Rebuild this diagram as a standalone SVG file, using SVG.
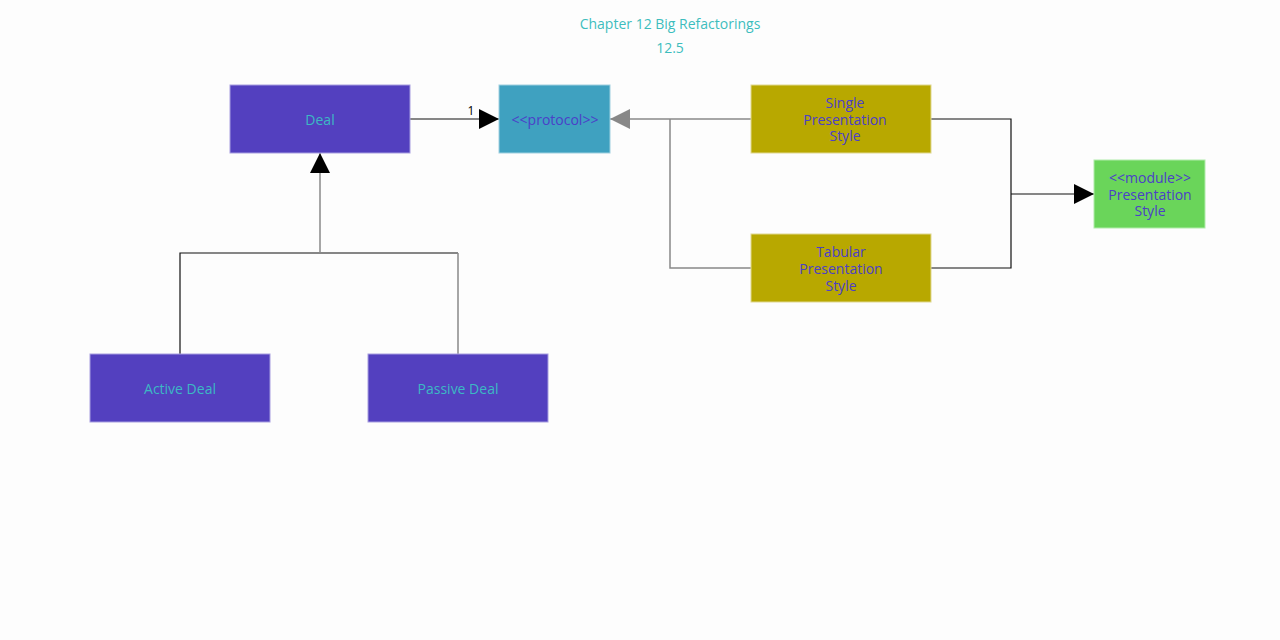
<svg xmlns="http://www.w3.org/2000/svg" width="1280" height="640" viewBox="0 0 1280 640">
<style>
text{font-family:"Open Sans","Noto Sans","Liberation Sans",sans-serif;font-size:14px;text-anchor:middle;dominant-baseline:central}
.title{fill:#3dbdbd}
.deal rect{fill:#5340bf;stroke:#a79ee0;stroke-width:1}
.deal text{fill:#3cb8c4}
.proto rect{fill:#3fa1c0;stroke:#9fd0e0;stroke-width:1}
.pres rect{fill:#b8a800;stroke:#e0d890;stroke-width:1}
.mod rect{fill:#6ad55a;stroke:#b0ecaa;stroke-width:1}
.blue{fill:#4b40c8}
.ln{fill:none;stroke:#111;stroke-width:1.2}
.lg{fill:none;stroke:#888;stroke-width:1.5}
</style>
<defs>
<marker id="ab" markerWidth="20" markerHeight="20" refX="20" refY="10" orient="auto" markerUnits="userSpaceOnUse"><path d="M0,0 L20,10 L0,20 Z" fill="#000"/></marker>
<marker id="ag" markerWidth="20" markerHeight="20" refX="20" refY="10" orient="auto" markerUnits="userSpaceOnUse"><path d="M0,0 L20,10 L0,20 Z" fill="#888"/></marker>
</defs>
<rect width="1280" height="640" fill="#fdfdfd"/>
<text class="title" x="670" y="23">Chapter 12 Big Refactorings</text>
<text class="title" x="670" y="47">12.5</text>
<g id="connectors">
<path class="ln" d="M410,119 L499,119" marker-end="url(#ab)"/>
<text x="471" y="110" style="font-size:12px;fill:#000">1</text>
<path class="lg" d="M751,119 L610,119" marker-end="url(#ag)"/>
<path class="lg" d="M751,268 L670,268 L670,119"/>
<path class="ln" d="M931,119 L1011,119 L1011,268 L931,268"/>
<path class="ln" d="M1011,194 L1094,194" marker-end="url(#ab)"/>
<path class="ln" d="M180,354 L180,253 L458,253"/>
<path class="lg" d="M458,253 L458,354"/>
<path class="lg" d="M320,253 L320,153" marker-end="url(#ab)"/>
</g>
<g id="deal" class="deal"><rect x="230" y="85" width="180" height="68"/><text x="320" y="119">Deal</text></g>
<g id="protocol" class="proto"><rect x="499" y="85" width="111" height="68"/><text class="blue" x="555" y="119">&lt;&lt;protocol&gt;&gt;</text></g>
<g id="single" class="pres"><rect x="751" y="85" width="180" height="68"/><text class="blue" x="845" y="102">Single</text><text class="blue" x="845" y="119">Presentation</text><text class="blue" x="845" y="135">Style</text></g>
<g id="tabular" class="pres"><rect x="751" y="234" width="180" height="68"/><text class="blue" x="841" y="251">Tabular</text><text class="blue" x="841" y="268">Presentation</text><text class="blue" x="841" y="285">Style</text></g>
<g id="module" class="mod"><rect x="1094" y="160" width="111" height="68"/><text class="blue" x="1150" y="177">&lt;&lt;module&gt;&gt;</text><text class="blue" x="1150" y="194">Presentation</text><text class="blue" x="1150" y="210">Style</text></g>
<g id="active" class="deal"><rect x="90" y="354" width="180" height="68"/><text x="180" y="388">Active Deal</text></g>
<g id="passive" class="deal"><rect x="368" y="354" width="180" height="68"/><text x="458" y="388">Passive Deal</text></g>
</svg>
